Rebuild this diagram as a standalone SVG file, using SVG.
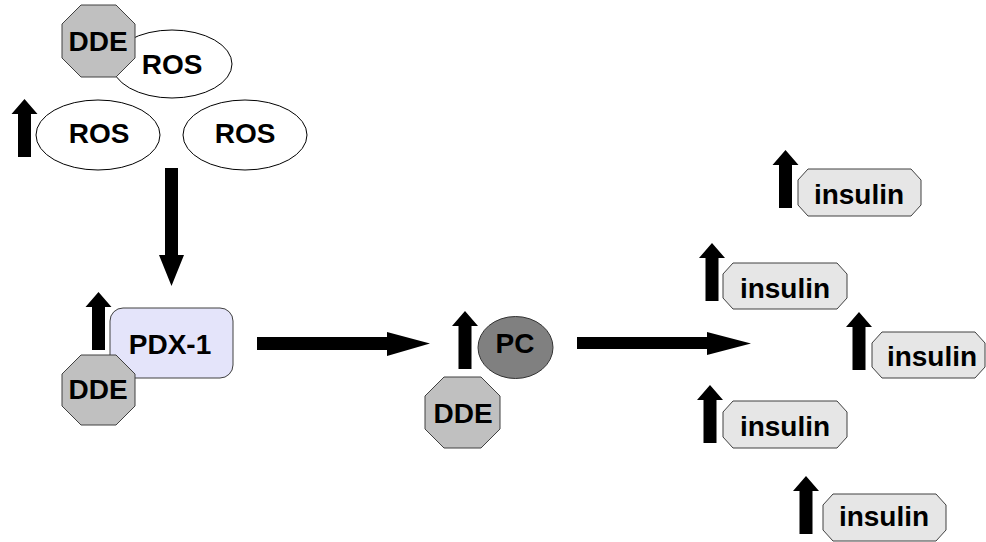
<svg xmlns="http://www.w3.org/2000/svg" width="986" height="542" viewBox="0 0 986 542">
<style>
text{font-family:"Liberation Sans",Arial,sans-serif;font-weight:bold;font-size:28px;text-anchor:middle;fill:#000}
.ros{fill:#fff;stroke:#000;stroke-width:1}
.dde{fill:#c0c0c0;stroke:#404040;stroke-width:1}
.ins{fill:#e6e6e6;stroke:#404040;stroke-width:1}
.arr{fill:#000}
</style>
<defs>
<path id="up" d="M0,0 L13,15 L6.5,15 L6.5,58 L-6.5,58 L-6.5,15 L-13,15 Z" fill="#000"/>
</defs>
<g id="connectors">
<polygon class="arr" points="165,168 178,168 178,255 184,255 171.5,286 159,255 165,255"/>
<polygon class="arr" points="257,337 387,337 387,332 430,343.5 387,356 387,350 257,350"/>
<polygon class="arr" points="577,337 707,337 707,332 751,343.5 707,355 707,349 577,349"/>
</g>
<g id="ros-top">
<ellipse class="ros" cx="172" cy="64" rx="60" ry="34"/>
<text x="172" y="74">ROS</text>
</g>
<g id="dde-top">
<polygon class="dde" points="81,5 116,5 135,24 135,58 116,77 81,77 62,58 62,24"/>
<text x="98" y="51">DDE</text>
</g>
<g id="ros-left">
<use href="#up" x="24.5" y="99"/>
<ellipse class="ros" cx="98" cy="135" rx="62" ry="35"/>
<text x="99" y="143">ROS</text>
</g>
<g id="ros-right">
<ellipse class="ros" cx="245" cy="135" rx="62" ry="35"/>
<text x="245" y="143">ROS</text>
</g>
<g id="pdx1">
<use href="#up" x="98.5" y="292"/>
<rect x="110" y="308" width="123" height="70" rx="13" fill="#e4e4fa" stroke="#404040"/>
<text x="170" y="354">PDX-1</text>
</g>
<g id="dde-pdx">
<polygon class="dde" points="81,355 116,355 135,374 135,406 116,425 81,425 62,406 62,374"/>
<text x="98" y="399">DDE</text>
</g>
<g id="pc">
<use href="#up" x="465" y="311"/>
<ellipse cx="515.5" cy="347.5" rx="37.5" ry="31" fill="#808080" stroke="#333"/>
<text x="515" y="353">PC</text>
</g>
<g id="dde-pc">
<polygon class="dde" points="444,377 481,377 500,396 500,429 481,448 444,448 425,429 425,396"/>
<text x="463" y="423">DDE</text>
</g>
<g id="insulin1">
<use href="#up" x="785.5" y="150"/>
<polygon class="ins" points="808,169 911,169 921,180 921,205 911,216 808,216 798,205 798,180"/>
<text x="859" y="204">insulin</text>
</g>
<g id="insulin2">
<use href="#up" x="712" y="243"/>
<polygon class="ins" points="733,263 837,263 847,274 847,298 837,309 733,309 723,298 723,274"/>
<text x="785" y="298">insulin</text>
</g>
<g id="insulin3">
<use href="#up" x="859" y="312"/>
<polygon class="ins" points="882,332 975,332 985,343 985,367 975,378 882,378 872,367 872,343"/>
<text x="932" y="366">insulin</text>
</g>
<g id="insulin4">
<use href="#up" x="710" y="385"/>
<polygon class="ins" points="733,401 837,401 847,412 847,437 837,448 733,448 723,437 723,412"/>
<text x="785" y="436">insulin</text>
</g>
<g id="insulin5">
<use href="#up" x="806" y="476"/>
<polygon class="ins" points="833,494 936,494 946,505 946,530 936,541 833,541 823,530 823,505"/>
<text x="884" y="526">insulin</text>
</g>
</svg>
